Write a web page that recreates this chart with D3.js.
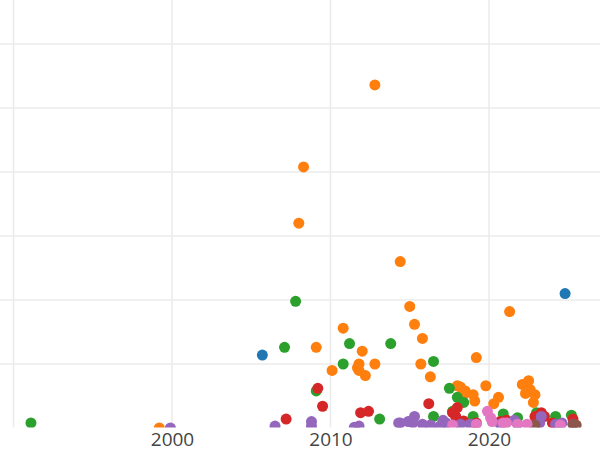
<!DOCTYPE html>
<html>
<head>
<meta charset="utf-8">
<script src="https://cdn.jsdelivr.net/npm/d3@7"></script>
<style>
  body { margin: 0; background: #fff; }
</style>
</head>
<body>
<script>
// years on x, value on y, one pair of arrays per group
var blueYears = [2005.7, 2024.8];
var blueValues = [57, 105];

var orangeYears = [1999.2, 2008.0, 2008.3, 2009.1, 2010.1, 2010.8, 2011.7, 2011.8, 2011.8, 2012.0, 2012.2, 2012.8, 2012.8,
  2014.4, 2015.0, 2015.3, 2015.7, 2015.8, 2016.3, 2018.0, 2018.2, 2018.4, 2018.5, 2019.0, 2019.1, 2019.2, 2019.8,
  2020.3, 2020.6, 2021.3, 2022.1, 2022.3, 2022.5, 2022.6, 2022.8, 2022.9];
var orangeValues = [0, 160, 204, 63, 45, 78, 47, 45, 50, 60, 41, 50, 268,
  130, 95, 81, 50, 70, 40, 33, 32, 26, 29, 26, 21, 55, 33,
  19, 24, 91, 34, 27, 37, 30, 20, 26];

var greenYears = [1991.1, 2007.1, 2007.8, 2009.1, 2010.8, 2011.2, 2013.1, 2013.8, 2016.5, 2016.5, 2017.5, 2017.7,
  2018.0, 2018.4, 2019.0, 2020.9, 2021.8, 2023.0, 2024.2, 2025.2];
var greenValues = [4, 63, 99, 29, 50, 66, 7, 66, 52, 9, 31, 13,
  24, 20, 9, 11, 8, 12, 9, 10];

var redYears = [2007.2, 2009.2, 2009.5, 2011.9, 2012.4, 2016.2, 2017.7, 2017.9, 2018.0, 2018.4, 2019.2, 2020.7,
  2021.1, 2022.9, 2023.3, 2023.5, 2024.0, 2025.3];
var redValues = [7, 31, 17, 12, 13, 19, 12, 9, 16, 5.5, 4, 5,
  6, 9, 12, 9, 4, 7];

var purpleYears = [1999.9, 2006.5, 2008.8, 2008.8, 2011.5, 2011.8, 2014.3, 2014.4, 2014.9, 2015.2, 2015.3, 2015.8,
  2016.3, 2016.9, 2017.1, 2017.3, 2018.2, 2018.8, 2020.7, 2021.6, 2021.8, 2023.2, 2023.3, 2024.2, 2024.6, 2025.3];
var purpleValues = [0, 1.5, 5, 1.5, 0.5, 1.5, 4, 4, 5, 4, 9, 3,
  2.3, 1.5, 6, 4, 3, 3, 3, 6, 3, 4, 9, 3, 4, 3];

var brownYears = [2022.9, 2025.3, 2025.5];
var brownValues = [2.3, 3, 2.3];

var pinkYears = [2017.7, 2019.2, 2019.9, 2020.1, 2020.2, 2020.9, 2021.1, 2021.8, 2022.4, 2024.5];
var pinkValues = [2.3, 3, 13, 8, 5, 4, 4, 3, 3, 2.3];

var gridYears = [1990, 2000, 2010, 2020];
var tickLabels = [2000, 2010, 2020];
var gridValues = [50, 100, 150, 200, 250, 300];

var groups = [
  { years: blueYears, values: blueValues, color: "#1f77b4" },
  { years: orangeYears, values: orangeValues, color: "#ff7f0e" },
  { years: greenYears, values: greenValues, color: "#2ca02c" },
  { years: redYears, values: redValues, color: "#d62728" },
  { years: purpleYears, values: purpleValues, color: "#9467bd" },
  { years: brownYears, values: brownValues, color: "#8c564b" },
  { years: pinkYears, values: pinkValues, color: "#e377c2" }
];

var w = 600;
var h = 450;
var bottom = 427.5;

var x = d3.scaleLinear().domain([1990, 2020]).range([13.5, 489]);
var y = d3.scaleLinear().domain([0, 300]).range([428, 44]);

var svg = d3.select("body")
      .append("svg")
      .attr("width", w)
      .attr("height", h);

svg.append("clipPath")
   .attr("id", "plotclip")
   .append("rect")
   .attr("x", 0)
   .attr("y", 0)
   .attr("width", w)
   .attr("height", bottom);

//grid lines
svg.selectAll("line.vgrid")
   .data(gridYears)
   .enter()
   .append("line")
   .attr("class", "vgrid")
   .attr("x1", function(d) { return x(d); })
   .attr("x2", function(d) { return x(d); })
   .attr("y1", 0)
   .attr("y2", bottom)
   .attr("stroke", "#ebebeb")
   .attr("stroke-width", 1.5);

svg.selectAll("line.hgrid")
   .data(gridValues)
   .enter()
   .append("line")
   .attr("class", "hgrid")
   .attr("x1", 0)
   .attr("x2", w)
   .attr("y1", function(d) { return y(d); })
   .attr("y2", function(d) { return y(d); })
   .attr("stroke", "#ebebeb")
   .attr("stroke-width", 1.5);

//points
var plot = svg.append("g").attr("clip-path", "url(#plotclip)");

groups.forEach(function(g) {
  var pts = g.years.map(function(yr, i) { return [yr, g.values[i]]; });
  plot.append("g")
     .selectAll("circle")
     .data(pts)
     .enter()
     .append("circle")
     .attr("cx", function(d) { return x(d[0]); })
     .attr("cy", function(d) { return y(d[1]); })
     .attr("r", 5.5)
     .attr("fill", g.color);
});

//x axis labels
var xAxis = d3.axisBottom(x)
      .tickValues(tickLabels)
      .tickFormat(d3.format("d"))
      .tickSize(0)
      .tickPadding(0);

var ax = svg.append("g")
      .attr("transform", "translate(0," + bottom + ")")
      .call(xAxis);

ax.select(".domain").remove();
ax.selectAll("text")
  .attr("dy", null)
  .attr("y", 18.5)
  .attr("font-family", "'Open Sans', sans-serif")
  .attr("font-size", "19px")
  .attr("fill", "#444");
</script>
</body>
</html>
